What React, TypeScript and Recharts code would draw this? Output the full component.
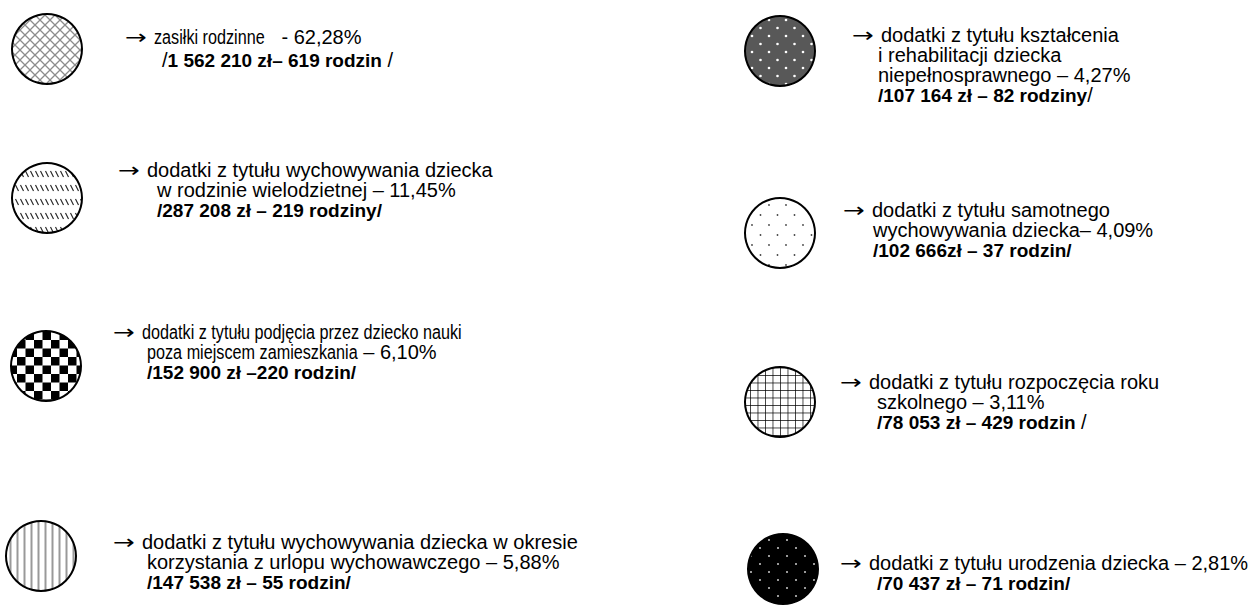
import type { CSSProperties } from "react";
import { Cell, Pie, PieChart } from "recharts";

// Legend of family benefits: share of total, amount paid and number of families
const labelLines: string[][] = [
  ["zasiłki rodzinne"],
  ["dodatki z tytułu wychowywania dziecka", "w rodzinie wielodzietnej"],
  ["dodatki z tytułu podjęcia przez dziecko nauki", "poza miejscem zamieszkania"],
  ["dodatki z tytułu wychowywania dziecka w okresie", "korzystania z urlopu wychowawczego"],
  ["dodatki z tytułu kształcenia", "i rehabilitacji dziecka", "niepełnosprawnego"],
  ["dodatki z tytułu samotnego", "wychowywania dziecka"],
  ["dodatki z tytułu rozpoczęcia roku", "szkolnego"],
  ["dodatki z tytułu urodzenia dziecka"],
];
const shares = [62.28, 11.45, 6.1, 5.88, 4.27, 4.09, 3.11, 2.81];
const separators = ["   - ", " – ", " – ", " – ", " – ", "– ", " – ", " – "];
const amountLead = ["/", "", "", "", "", "", "", ""];
const amountBold = [
  "1 562 210 zł– 619 rodzin",
  "/287 208 zł – 219 rodziny/",
  "/152 900 zł –220 rodzin/",
  "/147 538 zł – 55 rodzin/",
  "/107 164 zł – 82 rodziny",
  "/102 666zł – 37 rodzin/",
  "/78 053 zł – 429 rodzin",
  "/70 437 zł – 71 rodzin/",
];
const amountTrail = [" /", "", "", "", "/", "", " /", ""];

const W = 1251;
const H = 606;
const R = 36;
const FONT = 20;

// where each legend entry sits: circle centre, text start, indent of following lines
const layout = [
  { cx: 47, cy: 49, x: 125, indent: 162, top: 37, step: 23 },
  { cx: 47, cy: 198, x: 118, indent: 157, top: 170, step: 20 },
  { cx: 46, cy: 366, x: 113, indent: 147, top: 332, step: 20 },
  { cx: 41, cy: 556, x: 113, indent: 147, top: 542, step: 20 },
  { cx: 780, cy: 51, x: 852, indent: 878, top: 35, step: 20 },
  { cx: 780, cy: 233, x: 843, indent: 873, top: 210, step: 20 },
  { cx: 780, cy: 402, x: 840, indent: 877, top: 382, step: 20 },
  { cx: 783, cy: 569, x: 840, indent: 877, top: 563, step: 20 },
];
const condensed = [true, false, true, false, false, false, false, false];

const fmtShare = (v: number) => `${v.toFixed(2).replace(".", ",")}%`;

let canvas: HTMLCanvasElement | null = null;
function textWidth(text: string, font: string) {
  if (!canvas) canvas = document.createElement("canvas");
  const ctx = canvas.getContext("2d");
  if (!ctx) return text.length * FONT * 0.5;
  ctx.font = font;
  return ctx.measureText(text).width;
}

// Arial Narrow look-alike: squeeze Liberation Sans horizontally
function Narrow({ text }: { text: string }) {
  const k = 0.81;
  const w = textWidth(text, `${FONT}px "Liberation Sans"`);
  return (
    <span style={{ display: "inline-block", width: w * k }}>
      <span style={{ display: "inline-block", transform: `scaleX(${k})`, transformOrigin: "0 0" }}>{text}</span>
    </span>
  );
}

function Patterns() {
  return (
    <defs>
      <pattern id="p0" width="10" height="10" patternUnits="userSpaceOnUse">
        <rect width="10" height="10" fill="#fff" />
        <path d="M0,0 L10,10 M10,0 L0,10" stroke="#8c8c8c" strokeWidth="1.3" />
      </pattern>
      <pattern id="p1" width="5" height="14" patternUnits="userSpaceOnUse">
        <rect width="5" height="14" fill="#fff" />
        <path d="M0.5,3 L3.5,9" stroke="#222" strokeWidth="1.1" />
      </pattern>
      <pattern id="p2" width="17" height="17" patternUnits="userSpaceOnUse">
        <rect width="17" height="17" fill="#fff" />
        <rect width="8.5" height="8.5" fill="#000" />
        <rect x="8.5" y="8.5" width="8.5" height="8.5" fill="#000" />
      </pattern>
      <pattern id="p3" width="7" height="7" patternUnits="userSpaceOnUse">
        <rect width="7" height="7" fill="#fff" />
        <path d="M3.5,0 V7" stroke="#999" strokeWidth="2" />
      </pattern>
      <pattern id="p4" width="17" height="16" patternUnits="userSpaceOnUse">
        <rect width="17" height="16" fill="#585858" />
        <circle cx="4" cy="4" r="1.3" fill="#fff" />
        <circle cx="12.5" cy="12" r="1.3" fill="#fff" />
      </pattern>
      <pattern id="p5" width="17" height="20" patternUnits="userSpaceOnUse">
        <rect width="17" height="20" fill="#fff" />
        <circle cx="4" cy="5" r="0.9" fill="#444" />
        <circle cx="12.5" cy="15" r="0.9" fill="#444" />
      </pattern>
      <pattern id="p6" width="7.5" height="7.5" patternUnits="userSpaceOnUse">
        <rect width="7.5" height="7.5" fill="#fff" />
        <path d="M0,0 H7.5 M0,0 V7.5" stroke="#000" strokeWidth="1.4" />
      </pattern>
      <pattern id="p7" width="18" height="16" patternUnits="userSpaceOnUse">
        <rect width="18" height="16" fill="#000" />
        <circle cx="4" cy="4" r="1" fill="#ccc" />
        <circle cx="13" cy="12" r="1" fill="#ccc" />
      </pattern>
    </defs>
  );
}

const textBase: CSSProperties = {
  position: "absolute",
  whiteSpace: "pre",
  fontFamily: "'Liberation Sans', Arial, sans-serif",
  fontSize: FONT,
  lineHeight: "18px",
  height: 18,
  color: "#000",
};
const boldStyle: CSSProperties = { fontWeight: 700, fontSize: 19 };
const arrowStyle: CSSProperties = {
  display: "inline-block",
  width: 29,
  fontFamily: "'DejaVu Sans', sans-serif",
  fontSize: 20,
  transform: "scaleX(1.3)",
  transformOrigin: "0 0",
};

export default function App() {
  return (
    <div style={{ position: "absolute", left: 0, top: 0, width: W, height: H, background: "#fff" }}>
      <PieChart width={W} height={H} margin={{ top: 0, right: 0, bottom: 0, left: 0 }}>
        <Patterns />
        {layout.map((l, i) => (
          <Pie
            key={`fill-${i}`}
            data={[{ name: labelLines[i][0], value: shares[i] }]}
            dataKey="value"
            cx={l.cx}
            cy={l.cy}
            innerRadius={0}
            outerRadius={R - 1}
            startAngle={90}
            endAngle={-270}
            stroke="none"
            isAnimationActive={false}
          >
            <Cell fill={`url(#p${i})`} />
          </Pie>
        ))}
        {layout.map((l, i) => (
          <Pie
            key={`ring-${i}`}
            data={[{ name: labelLines[i][0], value: shares[i] }]}
            dataKey="value"
            cx={l.cx}
            cy={l.cy}
            innerRadius={R - 2}
            outerRadius={R}
            startAngle={90}
            endAngle={-270}
            stroke="none"
            isAnimationActive={false}
          >
            <Cell fill="#000" />
          </Pie>
        ))}
      </PieChart>

      {layout.map((l, i) => {
        const lines = labelLines[i];
        return (
          <div key={`txt-${i}`}>
            {lines.map((line, j) => {
              const last = j === lines.length - 1;
              return (
                <div
                  key={j}
                  style={{ ...textBase, left: j === 0 ? l.x : l.indent, top: l.top + j * l.step - 9 }}
                >
                  {j === 0 && <span style={arrowStyle}>→</span>}
                  {condensed[i] ? <Narrow text={line} /> : <span>{line}</span>}
                  {last && <span>{separators[i] + fmtShare(shares[i])}</span>}
                </div>
              );
            })}
            <div style={{ ...textBase, left: l.indent, top: l.top + lines.length * l.step - 9 }}>
              <span>{amountLead[i]}</span>
              <span style={boldStyle}>{amountBold[i]}</span>
              <span>{amountTrail[i]}</span>
            </div>
          </div>
        );
      })}
    </div>
  );
}
